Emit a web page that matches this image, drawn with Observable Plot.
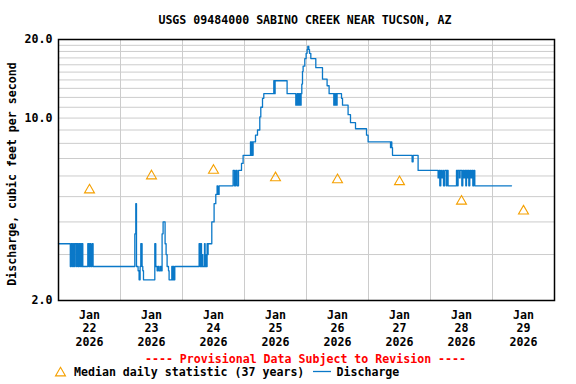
<!DOCTYPE html>
<html><head><meta charset="utf-8">
<script src="https://cdn.jsdelivr.net/npm/d3@7"></script>
<script src="https://cdn.jsdelivr.net/npm/@observablehq/plot@0.6"></script>
<style>body{margin:0;background:#fff;} svg{display:block}</style>
</head><body><div id="chart"></div>
<script>
const title = "USGS 09484000 SABINO CREEK NEAR TUCSON, AZ";
const yLabel = "Discharge, cubic feet per second";
const provisionalNote = "---- Provisional Data Subject to Revision ----";
const legendMedian = "Median daily statistic (37 years)";
const legendDischarge = "Discharge";
const monthLabel = "Jan";
const yearLabel = "2026";
const dayLabels = ["22", "23", "24", "25", "26", "27", "28", "29"];
const medianValues = [5.3, 6.0, 6.3, 5.9, 5.8, 5.7, 4.8, 4.4];
const yTicks = [2, 10, 20];
const yGrid = [3, 4, 5, 6, 7, 8, 9, 10, 11, 12, 13, 14, 15, 16, 17, 18, 19, 20];
// hours since 2026-01-22 00:00 (step values)
const dischargeHours = [
  0, 4.57, 4.95, 5.42, 5.81, 6.19, 6.43, 6.97, 7.20, 7.59, 7.86, 8.25, 8.52, 8.90, 9.14, 9.41,
  11.34, 11.73, 12.12, 12.50, 13.01, 13.39,
  29.54, 29.92, 30.19, 30.81, 31.20, 31.59, 31.86, 32.36, 32.63, 32.90,
  37.28, 37.66, 38.17, 38.56, 38.94, 39.48, 39.87, 40.10, 40.49, 41.26, 41.65, 42.04, 42.58, 42.81,
  43.86, 44.13, 44.36, 44.63, 45.02,
  54.43, 54.81, 55.08, 55.36, 55.59, 55.86, 56.52, 56.75, 57.02, 57.29, 57.52, 57.79, 57.91,
  59.34, 60.23, 60.89, 61.39, 61.66, 62.17,
  67.59, 68.13, 68.63, 69.14, 69.68, 70.84, 71.46,
  74.32, 74.56, 74.83, 75.10, 75.33, 76.26, 77.03, 77.92, 78.31, 78.97, 79.47,
  83.34, 83.61, 83.85, 88.49,
  91.86, 92.36, 92.63, 92.90, 93.14, 93.41, 93.68, 93.91,
  94.18, 94.45, 94.69, 95.34, 95.85, 96.23, 96.50, 96.89, 97.16, 97.67,
  99.60, 102.19, 103.97, 104.75,
  106.57, 106.84, 107.07, 107.34, 107.61, 107.84, 109.55, 109.94,
  112.10, 113.03, 114.97, 119.23, 119.85,
  128.52, 128.75, 129.02, 129.29, 136.88, 137.27, 139.20,
  146.94, 147.33, 147.60, 147.99, 148.26, 148.76, 149.03, 149.54, 150.19, 150.43, 150.81,
  154.06, 154.45, 154.68, 155.22, 155.46, 156.12, 156.50, 156.89, 157.28, 157.67, 157.94,
  158.17, 158.44, 158.83, 159.21, 159.60, 159.99, 160.38, 160.76, 161.15,
  175.36
];
const dischargeValues = [
  3.3, 2.7, 3.3, 2.7, 3.3, 2.7, 3.3, 2.7, 3.3, 2.7, 3.3, 2.7, 3.3, 2.7, 3.3, 2.7,
  3.3, 2.7, 3.3, 2.7, 3.3, 2.7,
  3.6, 4.7, 2.7, 2.6, 2.4, 2.7, 3.3, 2.7, 2.6, 2.4,
  3.3, 2.7, 2.6, 2.7, 2.6, 2.7, 2.6, 3.6, 4.0, 3.3, 3.0, 2.7, 2.6, 2.4,
  2.7, 2.4, 2.7, 2.4, 2.7,
  3.3, 2.7, 3.3, 2.7, 3.0, 2.7, 3.3, 2.7, 3.0, 2.7, 3.3, 3.0, 3.3,
  4.0, 4.7, 5.1, 5.5, 5.1, 5.5,
  6.3, 5.5, 6.3, 5.5, 6.3, 6.7, 7.2,
  8.1, 7.2, 8.1, 7.2, 8.1, 8.6, 9.0, 10.1, 11.0, 11.9, 12.4,
  13.9, 12.4, 13.9, 12.4,
  11.2, 12.4, 11.2, 12.4, 11.2, 12.4, 11.2, 12.4,
  13.5, 15.1, 15.8, 16.9, 17.7, 18.3, 18.8, 18.3, 17.7, 16.9,
  15.6, 14.1, 13.3, 12.4,
  11.2, 12.4, 11.2, 12.4, 11.2, 12.4, 11.9, 11.2,
  10.3, 9.6, 9.1, 8.6, 8.1,
  7.7, 8.1, 7.7, 7.2, 6.8, 7.2, 6.3,
  5.9, 6.3, 5.5, 6.3, 5.9, 6.3, 5.5, 6.3, 5.5, 6.3, 5.5,
  6.3, 5.5, 6.3, 5.9, 6.3, 5.5, 6.3, 5.9, 6.3, 5.5, 6.3,
  5.9, 6.3, 5.5, 6.3, 5.9, 6.3, 5.5, 6.3, 5.5,
  5.5
];

const t0 = Date.UTC(2026, 0, 22);
const H = 3600e3;
const discharge = dischargeHours.map((h, i) => ({t: new Date(t0 + h * H), v: dischargeValues[i]}));
const noon = dayLabels.map((d, i) => new Date(t0 + (i * 24 + 12) * H));
const medians = noon.map((t, i) => ({t, v: medianValues[i]}));
const midnights = d3.range(1, 8).map(i => new Date(t0 + i * 24 * H));
const labelOf = new Map(noon.map((t, i) => [+t, `${monthLabel}\n${dayLabels[i]}\n${yearLabel}`]));

const FONT = "DejaVu Sans Mono";
const FS = 11.6;
const blue = "#0a78c8";
const orange = "#f5a000";

const chart = Plot.plot({
  width: 576,
  height: 384,
  marginLeft: 58,
  marginRight: 22,
  marginTop: 39,
  marginBottom: 84,
  style: {fontFamily: FONT, fontSize: FS + "px", fontWeight: "bold", background: "white", color: "black"},
  x: {type: "utc", domain: [new Date(t0), new Date(t0 + 8 * 24 * H)]},
  y: {type: "log", domain: [2, 20]},
  marks: [
    Plot.ruleY(yGrid, {stroke: "#cccccc", strokeWidth: 1}),
    Plot.ruleX(midnights, {stroke: "#cccccc", strokeWidth: 1}),
    Plot.line(discharge, {x: "t", y: "v", stroke: blue, strokeWidth: 1.3, curve: "step-after"}),
    Plot.dot(medians, {x: "t", y: "v", symbol: "triangle", r: 3.7, stroke: orange, fill: "none", strokeWidth: 1.1}),
    Plot.frame({stroke: "black", strokeWidth: 1.5}),
    Plot.axisY({ticks: yTicks, tickFormat: d => d.toFixed(1), tickSize: 0, tickPadding: 6, label: null}),
    Plot.axisX({ticks: noon, tickFormat: d => labelOf.get(+d), tickSize: 0, tickPadding: 9, label: null, lineHeight: 1.15})
  ]
});
document.getElementById("chart").appendChild(chart);

const svg = d3.select(chart);
const addText = (x, y, s, opts = {}) => {
  const t = svg.append("text").attr("x", x).attr("y", y).text(s)
    .attr("font-family", FONT).attr("font-size", FS).attr("font-weight", "bold")
    .attr("fill", opts.fill || "black").attr("text-anchor", opts.anchor || "start");
  if (opts.rotate) t.attr("transform", `rotate(-90,${x},${y})`);
  return t;
};
addText(305, 24, title, {anchor: "middle"});
addText(16, 174, yLabel, {anchor: "middle", rotate: true});
addText(305.5, 363, provisionalNote, {anchor: "middle", fill: "red"});
svg.append("path")
  .attr("d", d3.symbol(d3.symbolTriangle, 3.7 * 3.7 * Math.PI)())
  .attr("transform", "translate(60.5,373)")
  .attr("fill", "none").attr("stroke", orange).attr("stroke-width", 1.1);
addText(74, 376, legendMedian);
svg.append("line").attr("x1", 313).attr("x2", 331).attr("y1", 371.5).attr("y2", 371.5)
  .attr("stroke", blue).attr("stroke-width", 1.3);
addText(336.5, 376, legendDischarge);
</script></body></html>
